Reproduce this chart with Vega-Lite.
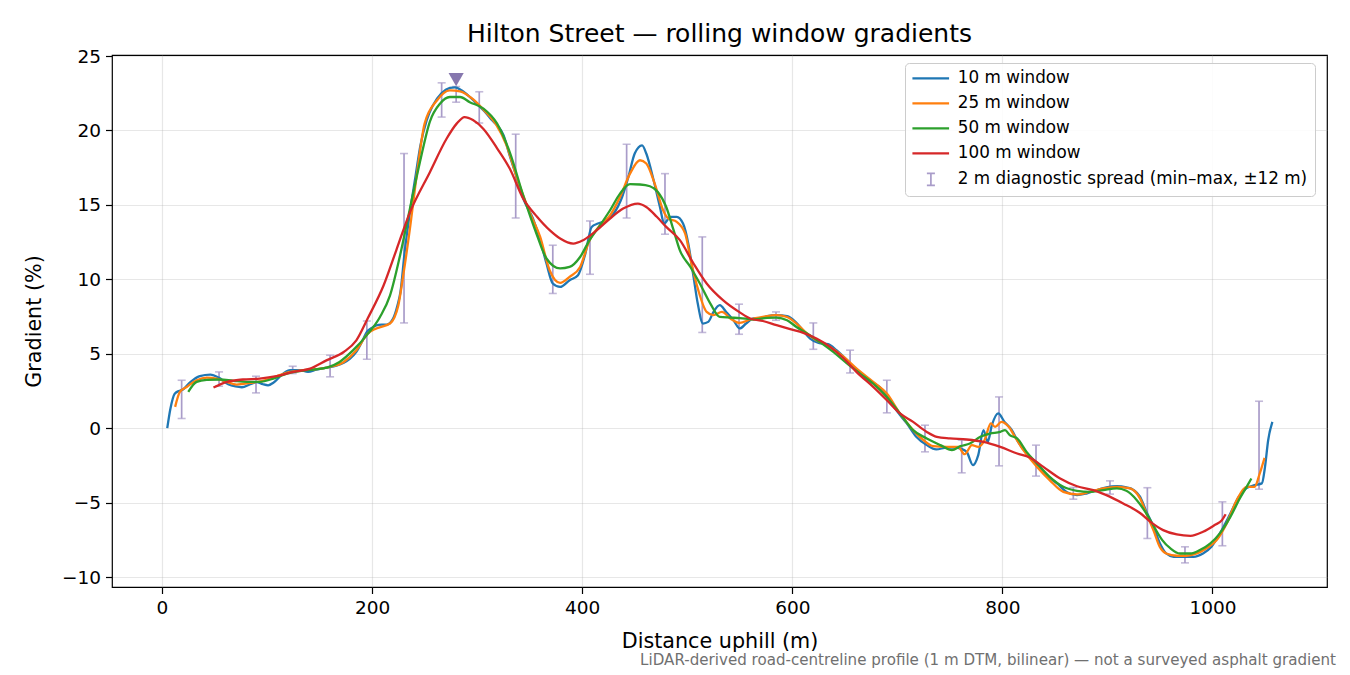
{
  "$schema": "https://vega.github.io/schema/vega-lite/v6.json",
  "width": 1215,
  "height": 532,
  "autosize": {"type": "none"},
  "padding": {"left": 112, "top": 55, "right": 23, "bottom": 88},
  "background": "white",
  "title": {"text": "Hilton Street — rolling window gradients", "fontSize": 25, "fontWeight": "normal", "color": "black", "offset": 0},
  "config": {
    "font": "DejaVu Sans",
    "view": {"stroke": "black", "strokeWidth": 1.2},
    "axis": {
      "domain": false, "grid": true, "gridColor": "#b0b0b0", "gridOpacity": 0.3, "gridWidth": 1.2,
      "tickColor": "black", "tickSize": 6.5, "tickWidth": 1.2,
      "labelFontSize": 18.5, "labelColor": "black", "labelPadding": 5,
      "titleFontSize": 20.7, "titleFontWeight": "normal", "titleColor": "black"
    }
  },
  "datasets": {
    "w10": [
      {"d":5,"g":0},{"d":8,"g":1.3},{"d":12,"g":2.3},{"d":16,"g":2.5},{"d":20,"g":2.6},{"d":27,"g":3.1},{"d":36,"g":3.5},{"d":46,"g":3.6},{"d":54,"g":3.4},{"d":63,"g":2.95},{"d":70,"g":2.8},{"d":76,"g":2.75},{"d":84,"g":2.95},{"d":90,"g":3.1},{"d":96,"g":2.95},{"d":101,"g":2.88},{"d":106,"g":3.05},{"d":115,"g":3.65},{"d":122,"g":3.9},{"d":131,"g":3.9},{"d":139,"g":3.78},{"d":147,"g":3.94},{"d":157,"g":4.07},{"d":166,"g":4.2},{"d":173,"g":4.4},{"d":179,"g":4.68},{"d":185,"g":5.12},{"d":191,"g":5.9},{"d":195,"g":6.47},{"d":200,"g":6.75},{"d":204,"g":6.9},{"d":209,"g":6.95},{"d":214,"g":6.96},{"d":220,"g":7.36},{"d":224,"g":8.2},{"d":227,"g":9.15},{"d":231,"g":11.84},{"d":236,"g":14.5},{"d":241,"g":16.77},{"d":246,"g":19.0},{"d":252,"g":20.7},{"d":258,"g":21.7},{"d":266,"g":22.5},{"d":274,"g":22.86},{"d":279,"g":22.9},{"d":285,"g":22.7},{"d":293,"g":22.25},{"d":301,"g":21.7},{"d":309,"g":21.13},{"d":314,"g":20.7},{"d":319,"g":20.35},{"d":325,"g":19.7},{"d":331,"g":18.3},{"d":338,"g":16.77},{"d":344,"g":15.4},{"d":353,"g":14.1},{"d":360,"g":12.63},{"d":366,"g":11.06},{"d":372,"g":9.72},{"d":379,"g":9.49},{"d":388,"g":9.94},{"d":396,"g":10.28},{"d":403,"g":11.73},{"d":409,"g":13.52},{"d":415,"g":13.75},{"d":423,"g":13.97},{"d":430,"g":14.42},{"d":438,"g":15.53},{"d":444,"g":16.88},{"d":450,"g":18.45},{"d":457,"g":19.0},{"d":461,"g":18.45},{"d":468,"g":16.65},{"d":474,"g":14.86},{"d":478,"g":13.75},{"d":484,"g":14.2},{"d":490,"g":14.2},{"d":496,"g":13.75},{"d":501,"g":12.4},{"d":506,"g":10.16},{"d":510,"g":8.37},{"d":515,"g":7.03},{"d":520,"g":7.14},{"d":525,"g":7.81},{"d":531,"g":8.26},{"d":537,"g":7.81},{"d":544,"g":7.25},{"d":550,"g":6.7},{"d":556,"g":7.03},{"d":563,"g":7.37},{"d":569,"g":7.37},{"d":576,"g":7.52},{"d":585,"g":7.59},{"d":595,"g":7.52},{"d":603,"g":7.14},{"d":610,"g":6.58},{"d":617,"g":6.02},{"d":625,"g":5.73},{"d":634,"g":5.64},{"d":642,"g":5.24},{"d":652,"g":4.57},{"d":661,"g":3.9},{"d":672,"g":3.22},{"d":683,"g":2.77},{"d":691,"g":2.1},{"d":699,"g":1.21},{"d":709,"g":0.32},{"d":718,"g":-0.58},{"d":728,"g":-1.14},{"d":737,"g":-1.43},{"d":747,"g":-1.3},{"d":756,"g":-1.3},{"d":760,"g":-1.37},{"d":766,"g":-1.59},{"d":772,"g":-2.48},{"d":777,"g":-1.81},{"d":782,"g":-0.13},{"d":786,"g":-0.92},{"d":790,"g":0.2},{"d":796,"g":0.99},{"d":802,"g":0.42},{"d":809,"g":-0.13},{"d":815,"g":-0.92},{"d":823,"g":-1.7},{"d":833,"g":-2.48},{"d":842,"g":-3.16},{"d":852,"g":-3.71},{"d":861,"g":-4.28},{"d":871,"g":-4.5},{"d":880,"g":-4.39},{"d":890,"g":-4.16},{"d":899,"g":-3.98},{"d":909,"g":-3.9},{"d":918,"g":-3.98},{"d":925,"g":-4.16},{"d":931,"g":-4.6},{"d":937,"g":-5.6},{"d":944,"g":-6.63},{"d":950,"g":-7.74},{"d":956,"g":-8.42},{"d":963,"g":-8.64},{"d":972,"g":-8.64},{"d":982,"g":-8.64},{"d":991,"g":-8.42},{"d":999,"g":-7.97},{"d":1007,"g":-7.07},{"d":1017,"g":-5.73},{"d":1025,"g":-4.61},{"d":1032,"g":-4.05},{"d":1040,"g":-3.83},{"d":1047,"g":-3.71},{"d":1050,"g":-2.6},{"d":1053,"g":-0.81},{"d":1057,"g":0.42}
    ],
    "w25": [
      {"d":12.5,"g":1.43},{"d":17,"g":2.44},{"d":23.5,"g":2.77},{"d":33,"g":3.22},{"d":42.5,"g":3.4},{"d":52,"g":3.33},{"d":61.6,"g":3.11},{"d":71,"g":2.93},{"d":84,"g":3.04},{"d":96,"g":3.18},{"d":109,"g":3.49},{"d":122,"g":3.78},{"d":134.5,"g":3.9},{"d":147,"g":3.96},{"d":160,"g":4.12},{"d":173,"g":4.45},{"d":185,"g":5.24},{"d":196,"g":6.36},{"d":204,"g":6.7},{"d":217,"g":7.03},{"d":225,"g":8.26},{"d":229.7,"g":10.3},{"d":236,"g":13.4},{"d":242.5,"g":17.0},{"d":250,"g":20.46},{"d":261.5,"g":22.0},{"d":274,"g":22.7},{"d":283.7,"g":22.63},{"d":296,"g":22.1},{"d":306,"g":21.4},{"d":318,"g":20.4},{"d":328,"g":19.0},{"d":338,"g":16.8},{"d":350,"g":14.5},{"d":360,"g":12.85},{"d":369,"g":10.61},{"d":379,"g":9.76},{"d":388,"g":10.16},{"d":398,"g":10.83},{"d":407,"g":12.63},{"d":417,"g":13.63},{"d":426.5,"g":14.3},{"d":436,"g":15.53},{"d":445.5,"g":17.1},{"d":455,"g":18.0},{"d":461,"g":17.78},{"d":469,"g":16.43},{"d":477,"g":14.64},{"d":482,"g":14.08},{"d":490,"g":13.86},{"d":498,"g":13.07},{"d":504,"g":11.06},{"d":510.5,"g":9.27},{"d":518.5,"g":7.81},{"d":525,"g":7.59},{"d":533,"g":7.81},{"d":541,"g":7.37},{"d":550,"g":7.07},{"d":560,"g":7.3},{"d":572,"g":7.47},{"d":585,"g":7.59},{"d":595,"g":7.47},{"d":604,"g":7.03},{"d":614,"g":6.36},{"d":623,"g":5.91},{"d":636,"g":5.46},{"d":649,"g":4.79},{"d":661,"g":4.01},{"d":677,"g":3.11},{"d":690,"g":2.33},{"d":702.5,"g":0.99},{"d":715,"g":-0.13},{"d":725,"g":-0.81},{"d":734,"g":-1.21},{"d":747,"g":-1.26},{"d":758,"g":-1.26},{"d":764,"g":-1.75},{"d":771,"g":-1.14},{"d":777,"g":-1.26},{"d":783,"g":-0.81},{"d":789,"g":0.32},{"d":793,"g":0.09},{"d":799,"g":0.42},{"d":806,"g":0.09},{"d":812,"g":-0.58},{"d":820,"g":-1.48},{"d":833,"g":-2.6},{"d":845,"g":-3.49},{"d":858,"g":-4.28},{"d":871,"g":-4.45},{"d":883,"g":-4.28},{"d":896,"g":-4.05},{"d":909,"g":-3.94},{"d":921.5,"g":-4.05},{"d":931,"g":-4.72},{"d":938,"g":-5.9},{"d":944,"g":-6.9},{"d":950,"g":-8.0},{"d":956,"g":-8.42},{"d":966,"g":-8.57},{"d":975,"g":-8.57},{"d":985,"g":-8.42},{"d":994,"g":-8.08},{"d":1004,"g":-7.52},{"d":1013.5,"g":-6.4},{"d":1023,"g":-4.84},{"d":1032.5,"g":-3.94},{"d":1040,"g":-3.94},{"d":1045,"g":-3.04},{"d":1049.5,"g":-2.0}
    ],
    "w50": [
      {"d":25,"g":2.44},{"d":33,"g":3.11},{"d":42.5,"g":3.24},{"d":55,"g":3.27},{"d":68,"g":3.18},{"d":81,"g":3.11},{"d":93,"g":3.11},{"d":106,"g":3.33},{"d":119,"g":3.67},{"d":131,"g":3.83},{"d":144,"g":3.94},{"d":157,"g":4.07},{"d":169,"g":4.45},{"d":182,"g":5.24},{"d":195,"g":6.25},{"d":207.5,"g":7.47},{"d":217,"g":8.9},{"d":226.6,"g":11.6},{"d":236,"g":14.75},{"d":245.6,"g":17.9},{"d":255,"g":20.6},{"d":264.6,"g":21.8},{"d":274,"g":22.25},{"d":283.7,"g":22.25},{"d":293,"g":21.9},{"d":306,"g":21.47},{"d":319,"g":20.46},{"d":331,"g":18.55},{"d":344,"g":15.6},{"d":357,"g":12.96},{"d":366,"g":11.4},{"d":379,"g":10.73},{"d":388,"g":10.83},{"d":398,"g":11.5},{"d":407,"g":12.63},{"d":417,"g":13.63},{"d":426.5,"g":14.64},{"d":436,"g":15.76},{"d":445.5,"g":16.39},{"d":455,"g":16.37},{"d":464.5,"g":16.25},{"d":472,"g":15.87},{"d":480,"g":14.86},{"d":487,"g":13.3},{"d":493,"g":11.95},{"d":503,"g":10.83},{"d":512,"g":9.72},{"d":522,"g":8.37},{"d":531,"g":7.47},{"d":541,"g":7.43},{"d":550,"g":7.4},{"d":563,"g":7.3},{"d":576,"g":7.41},{"d":585,"g":7.43},{"d":595,"g":7.25},{"d":604,"g":6.8},{"d":614,"g":6.36},{"d":626,"g":5.8},{"d":639,"g":5.12},{"d":652,"g":4.35},{"d":664.5,"g":3.67},{"d":677,"g":3.0},{"d":690,"g":2.1},{"d":702.5,"g":0.99},{"d":715,"g":-0.13},{"d":728,"g":-0.69},{"d":741,"g":-1.14},{"d":752,"g":-1.48},{"d":760,"g":-1.21},{"d":769,"g":-1.03},{"d":779,"g":-0.58},{"d":788,"g":-0.36},{"d":798,"g":-0.25},{"d":802.5,"g":-0.13},{"d":807,"g":-0.47},{"d":814,"g":-0.69},{"d":823,"g":-1.59},{"d":833,"g":-2.37},{"d":845,"g":-3.27},{"d":858,"g":-3.94},{"d":871,"g":-4.21},{"d":883,"g":-4.28},{"d":896,"g":-4.16},{"d":909,"g":-4.05},{"d":918,"g":-4.21},{"d":928,"g":-4.84},{"d":937,"g":-5.73},{"d":945,"g":-6.7},{"d":952,"g":-7.5},{"d":960,"g":-8.08},{"d":969,"g":-8.42},{"d":979,"g":-8.42},{"d":988,"g":-8.19},{"d":998,"g":-7.74},{"d":1007,"g":-7.07},{"d":1017,"g":-5.96},{"d":1026,"g":-4.72},{"d":1032.5,"g":-3.94},{"d":1037,"g":-3.38}
    ],
    "w100": [
      {"d":49,"g":2.73},{"d":62,"g":3.11},{"d":77,"g":3.27},{"d":93,"g":3.33},{"d":109,"g":3.49},{"d":125,"g":3.78},{"d":141,"g":4.0},{"d":157,"g":4.57},{"d":173,"g":5.12},{"d":185,"g":5.9},{"d":196,"g":7.4},{"d":211,"g":9.6},{"d":223,"g":11.95},{"d":236,"g":14.5},{"d":255,"g":17.2},{"d":271,"g":19.46},{"d":280.5,"g":20.46},{"d":288,"g":20.9},{"d":296,"g":20.7},{"d":306,"g":20.1},{"d":319,"g":18.8},{"d":331,"g":17.44},{"d":344,"g":15.4},{"d":357,"g":14.2},{"d":369,"g":13.3},{"d":379,"g":12.74},{"d":391.5,"g":12.4},{"d":401,"g":12.63},{"d":414,"g":13.3},{"d":426.5,"g":14.08},{"d":439,"g":14.75},{"d":453,"g":15.09},{"d":461,"g":14.86},{"d":471,"g":14.2},{"d":480,"g":13.52},{"d":493,"g":12.63},{"d":506,"g":11.06},{"d":518.5,"g":9.72},{"d":534,"g":8.6},{"d":550,"g":7.78},{"d":560,"g":7.37},{"d":572,"g":7.2},{"d":585,"g":6.92},{"d":598,"g":6.65},{"d":610.5,"g":6.4},{"d":623,"g":6.02},{"d":636,"g":5.46},{"d":649,"g":4.68},{"d":661,"g":3.78},{"d":677,"g":2.77},{"d":690,"g":1.88},{"d":702.5,"g":0.99},{"d":715,"g":0.42},{"d":728,"g":-0.25},{"d":737.5,"g":-0.58},{"d":750,"g":-0.69},{"d":766,"g":-0.76},{"d":782,"g":-0.92},{"d":798,"g":-1.26},{"d":814,"g":-1.7},{"d":826,"g":-1.97},{"d":839,"g":-2.6},{"d":855,"g":-3.38},{"d":871,"g":-3.9},{"d":886.5,"g":-4.16},{"d":899,"g":-4.5},{"d":915,"g":-5.06},{"d":931,"g":-5.7},{"d":941,"g":-6.29},{"d":953,"g":-6.85},{"d":966,"g":-7.14},{"d":979,"g":-7.23},{"d":991,"g":-6.96},{"d":1002,"g":-6.51},{"d":1009,"g":-6.18},{"d":1012.5,"g":-5.78}
    ],
    "spread": [
      {"d":18.7,"lo":0.65,"hi":3.22},{"d":54.3,"lo":2.82,"hi":3.78},{"d":89.5,"lo":2.37,"hi":3.49},{"d":124.4,"lo":3.67,"hi":4.16},{"d":160,"lo":3.45,"hi":4.9},{"d":195,"lo":4.63,"hi":7.2},{"d":230.4,"lo":7.07,"hi":18.45},{"d":266.2,"lo":20.9,"hi":23.2},{"d":280,"lo":21.9,"hi":22.95},{"d":302,"lo":20.5,"hi":22.6},{"d":336.7,"lo":14.12,"hi":19.75},{"d":372,"lo":9.05,"hi":12.29},{"d":407.4,"lo":10.34,"hi":13.92},{"d":442.3,"lo":14.12,"hi":19.07},{"d":478.8,"lo":13.03,"hi":17.1},{"d":514.3,"lo":6.43,"hi":12.85},{"d":549.3,"lo":6.31,"hi":8.33},{"d":584.5,"lo":7.25,"hi":7.81},{"d":620,"lo":5.3,"hi":7.07},{"d":655,"lo":3.71,"hi":5.24},{"d":690,"lo":1.03,"hi":3.22},{"d":726.3,"lo":-1.59,"hi":0.2},{"d":761.3,"lo":-3.0,"hi":-0.8},{"d":796.8,"lo":-2.53,"hi":2.1},{"d":832,"lo":-3.22,"hi":-1.14},{"d":867.5,"lo":-4.77,"hi":-3.98},{"d":902.4,"lo":-4.43,"hi":-3.54},{"d":938,"lo":-7.41,"hi":-4.0},{"d":973.8,"lo":-9.05,"hi":-7.97},{"d":1009.4,"lo":-7.9,"hi":-4.95},{"d":1044.3,"lo":-4.1,"hi":1.81}
    ],
    "peak": [{"d":280,"g":23.42}],
    "note": [{"text":"LiDAR-derived road-centreline profile (1 m DTM, bilinear) — not a surveyed asphalt gradient"}]
  },
  "layer": [
    {
      "data": {"name": "spread"},
      "mark": {"type": "rule", "strokeWidth": 1.7},
      "encoding": {
        "x": {"field": "d", "type": "quantitative", "scale": {"domain": [-47.6, 1109], "nice": false, "zero": false}, "title": "Distance uphill (m)", "axis": {"values": [0, 200, 400, 600, 800, 1000], "format": "d", "titlePadding": 14}},
        "y": {"field": "lo", "type": "quantitative", "scale": {"domain": [-10.67, 25.07], "nice": false, "zero": false}, "title": "Gradient (%)", "axis": {"values": [-10, -5, 0, 5, 10, 15, 20, 25], "titlePadding": 17}},
        "y2": {"field": "hi"},
        "color": {
          "datum": "2 m diagnostic spread (min–max, ±12 m)",
          "type": "nominal",
          "scale": {
            "domain": ["10 m window", "25 m window", "50 m window", "100 m window", "2 m diagnostic spread (min–max, ±12 m)"],
            "range": ["#1f77b4", "#ff7f0e", "#2ca02c", "#d62728", "#a99cc9"]
          },
          "legend": {
            "title": null, "orient": "none", "legendX": 793, "legendY": 8,
            "fillColor": "rgba(255,255,255,0.85)", "strokeColor": "#cccccc", "cornerRadius": 4, "padding": 7,
            "labelFontSize": 16.8, "labelColor": "black", "labelOffset": 29, "labelLimit": 0, "symbolSize": 144, "rowPadding": 7,
            "encode": {
              "symbols": {
                "update": {
                  "shape": {"signal": "datum.value === '2 m diagnostic spread (min–max, ±12 m)' ? 'M1.75,-1.0V1.0M1.08,-1.0H2.42M1.08,1.0H2.42' : 'M-1.33,0H4.78'"},
                  "strokeWidth": {"signal": "datum.value === '2 m diagnostic spread (min–max, ±12 m)' ? 1.7 : 2.4"},
                  "fill": {"value": "transparent"}
                }
              }
            }
          }
        }
      }
    },
    {
      "data": {"name": "spread"},
      "mark": {"type": "tick", "orient": "horizontal", "size": 8, "thickness": 1.6},
      "encoding": {
        "x": {"field": "d", "type": "quantitative", "scale": {"domain": [-47.6, 1109], "nice": false, "zero": false}, "title": "Distance uphill (m)"},
        "y": {"field": "lo", "type": "quantitative", "scale": {"domain": [-10.67, 25.07], "nice": false, "zero": false}, "title": "Gradient (%)"},
        "color": {"value": "#a99cc9"}
      }
    },
    {
      "data": {"name": "spread"},
      "mark": {"type": "tick", "orient": "horizontal", "size": 8, "thickness": 1.6},
      "encoding": {
        "x": {"field": "d", "type": "quantitative", "scale": {"domain": [-47.6, 1109], "nice": false, "zero": false}, "title": "Distance uphill (m)"},
        "y": {"field": "hi", "type": "quantitative", "scale": {"domain": [-10.67, 25.07], "nice": false, "zero": false}, "title": "Gradient (%)"},
        "color": {"value": "#a99cc9"}
      }
    },
    {
      "data": {"name": "w10"},
      "mark": {"type": "line", "strokeWidth": 2.3, "interpolate": "monotone"},
      "encoding": {
        "x": {"field": "d", "type": "quantitative", "scale": {"domain": [-47.6, 1109], "nice": false, "zero": false}, "title": "Distance uphill (m)"},
        "y": {"field": "g", "type": "quantitative", "scale": {"domain": [-10.67, 25.07], "nice": false, "zero": false}, "title": "Gradient (%)"},
        "color": {"datum": "10 m window", "type": "nominal"}
      }
    },
    {
      "data": {"name": "w25"},
      "mark": {"type": "line", "strokeWidth": 2.3, "interpolate": "monotone"},
      "encoding": {
        "x": {"field": "d", "type": "quantitative", "scale": {"domain": [-47.6, 1109], "nice": false, "zero": false}, "title": "Distance uphill (m)"},
        "y": {"field": "g", "type": "quantitative", "scale": {"domain": [-10.67, 25.07], "nice": false, "zero": false}, "title": "Gradient (%)"},
        "color": {"datum": "25 m window", "type": "nominal"}
      }
    },
    {
      "data": {"name": "w50"},
      "mark": {"type": "line", "strokeWidth": 2.3, "interpolate": "monotone"},
      "encoding": {
        "x": {"field": "d", "type": "quantitative", "scale": {"domain": [-47.6, 1109], "nice": false, "zero": false}, "title": "Distance uphill (m)"},
        "y": {"field": "g", "type": "quantitative", "scale": {"domain": [-10.67, 25.07], "nice": false, "zero": false}, "title": "Gradient (%)"},
        "color": {"datum": "50 m window", "type": "nominal"}
      }
    },
    {
      "data": {"name": "w100"},
      "mark": {"type": "line", "strokeWidth": 2.3, "interpolate": "monotone"},
      "encoding": {
        "x": {"field": "d", "type": "quantitative", "scale": {"domain": [-47.6, 1109], "nice": false, "zero": false}, "title": "Distance uphill (m)"},
        "y": {"field": "g", "type": "quantitative", "scale": {"domain": [-10.67, 25.07], "nice": false, "zero": false}, "title": "Gradient (%)"},
        "color": {"datum": "100 m window", "type": "nominal"}
      }
    },
    {
      "data": {"name": "peak"},
      "mark": {"type": "point", "shape": "triangle-down", "filled": true, "size": 230, "opacity": 1},
      "encoding": {
        "x": {"field": "d", "type": "quantitative", "scale": {"domain": [-47.6, 1109], "nice": false, "zero": false}, "title": "Distance uphill (m)"},
        "y": {"field": "g", "type": "quantitative", "scale": {"domain": [-10.67, 25.07], "nice": false, "zero": false}, "title": "Gradient (%)"},
        "color": {"value": "#8677ae"}
      }
    },
    {
      "data": {"name": "note"},
      "mark": {"type": "text", "align": "right", "baseline": "middle", "fontSize": 15.1, "color": "#707070"},
      "encoding": {
        "x": {"datum": 1117.6, "type": "quantitative", "scale": {"domain": [-47.6, 1109], "nice": false, "zero": false}, "title": "Distance uphill (m)"},
        "y": {"datum": -15.6, "type": "quantitative", "scale": {"domain": [-10.67, 25.07], "nice": false, "zero": false}, "title": "Gradient (%)"},
        "text": {"field": "text"}
      }
    }
  ]
}
